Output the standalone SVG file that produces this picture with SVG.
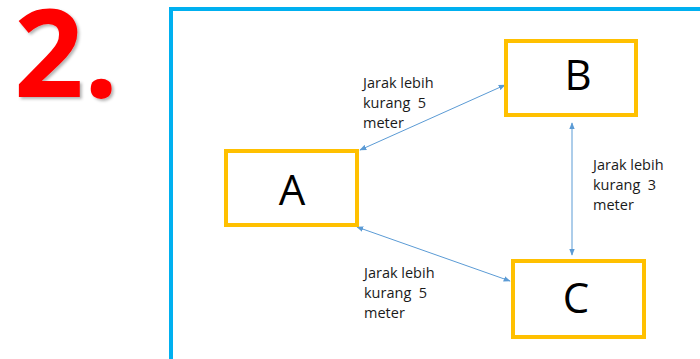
<svg xmlns="http://www.w3.org/2000/svg" width="700" height="359" viewBox="0 0 700 359">
<defs>
<style>
.box{fill:#fff;stroke:#FFC000;stroke-width:4}
.letter{font-family:"Open Sans","Liberation Sans",sans-serif;font-size:42px;fill:#000;text-anchor:middle}
.lbl{font-family:"Open Sans","Liberation Sans",sans-serif;font-size:14.5px;fill:#1a1a1a}
.conn{stroke:#5B9BD5;stroke-width:1;fill:none;marker-start:url(#ah);marker-end:url(#ah)}
</style>
<marker id="ah" viewBox="0 0 10 10" refX="9" refY="5" markerWidth="7" markerHeight="7" orient="auto-start-reverse" markerUnits="userSpaceOnUse">
<path d="M0,1 L10,5 L0,9 Z" fill="#5B9BD5"/>
</marker>
<filter id="sh" x="-10%" y="-10%" width="130%" height="130%">
<feDropShadow dx="2" dy="2" stdDeviation="1.5" flood-color="#000" flood-opacity="0.3"/>
</filter>
</defs>
<rect width="700" height="359" fill="#fff"/>
<text x="14" y="97" font-family="'Open Sans','Liberation Sans',sans-serif" font-weight="bold" font-size="122" fill="#FF0000" filter="url(#sh)">2.</text>
<rect id="frame" x="171" y="9" width="560" height="380" fill="none" stroke="#00B0F0" stroke-width="4"/>
<g id="connectors">
<line class="conn" x1="360" y1="150" x2="505" y2="85"/>
<line class="conn" x1="572" y1="123" x2="572" y2="255"/>
<line class="conn" x1="357" y1="227" x2="510" y2="281"/>
</g>
<g id="A">
<rect class="box" x="226" y="151" width="131" height="74"/>
<text class="letter" x="292" y="205">A</text>
</g>
<g id="B">
<rect class="box" x="506" y="41" width="130" height="74"/>
<text class="letter" x="578" y="90">B</text>
</g>
<g id="C">
<rect class="box" x="513" y="261" width="131" height="76"/>
<text class="letter" x="576" y="313">C</text>
</g>
<g id="label-AB">
<text class="lbl" x="363" y="88">Jarak lebih</text>
<text class="lbl" x="363" y="108" xml:space="preserve">kurang  5</text>
<text class="lbl" x="363" y="128">meter</text>
</g>
<g id="label-BC">
<text class="lbl" x="593" y="170">Jarak lebih</text>
<text class="lbl" x="593" y="190" xml:space="preserve">kurang  3</text>
<text class="lbl" x="593" y="210">meter</text>
</g>
<g id="label-AC">
<text class="lbl" x="364" y="278">Jarak lebih</text>
<text class="lbl" x="364" y="298" xml:space="preserve">kurang  5</text>
<text class="lbl" x="364" y="318">meter</text>
</g>
</svg>
